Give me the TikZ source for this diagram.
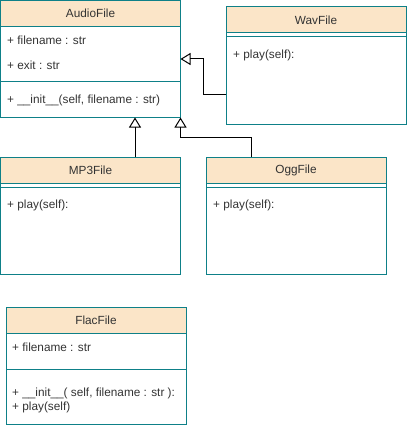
\documentclass[tikz,border=0pt]{standalone}
\usepackage{fontspec}
\setmainfont{Liberation Sans}
\usetikzlibrary{arrows.meta}
\definecolor{umlborder}{HTML}{0E8088}
\definecolor{umlhead}{HTML}{FBE5C8}
\definecolor{umltext}{HTML}{333333}
\begin{document}
\begin{tikzpicture}[x=1pt, y=-1pt,
    font=\fontsize{11.8pt}{13pt}\selectfont,
    classbox/.style={draw=umlborder, line width=1pt, anchor=north west,
        minimum width=180pt, minimum height=117pt, inner sep=0pt, outer sep=0pt},
    classhead/.style={draw=umlborder, fill=umlhead, line width=1pt, anchor=north,
        minimum width=180pt, minimum height=26pt, inner sep=0pt, outer sep=0pt, text=umltext},
    member/.style={anchor=west, inner sep=0pt, text=umltext},
    divider/.style={draw=umlborder, line width=1pt},
    inherit/.style={draw=black, line width=1pt, -{Triangle[open, width=12pt, length=10pt]}}]
    \useasboundingbox (0,0) rectangle (407,425);
    % class boxes
    \node[classbox] (audio) at (0.5,0.5) {};
    \node[classbox] (wav) at (226,7) {};
    \node[classbox] (mp3) at (0.5,157) {};
    \node[classbox] (ogg) at (206,157) {};
    \node[classbox] (flac) at (6,307) {};
    % headers
    \node[classhead] (audiohead) at (audio.north) {AudioFile};
    \node[classhead] (wavhead) at (wav.north) {WavFile};
    \node[classhead] (mp3head) at (mp3.north) {MP3File};
    \node[classhead] (ogghead) at (ogg.north) {OggFile};
    \node[classhead] (flachead) at (flac.north) {FlacFile};
    % dividers
    \draw[divider] (audio.west |- 0,82) -- (audio.east |- 0,82);
    \draw[divider] (wav.west |- 0,37) -- (wav.east |- 0,37);
    \draw[divider] (mp3.west |- 0,187) -- (mp3.east |- 0,187);
    \draw[divider] (ogg.west |- 0,187) -- (ogg.east |- 0,187);
    \draw[divider] (flac.west |- 0,369) -- (flac.east |- 0,369);
    % members
    \node[member] (audioname) at (7,40) {+ filename : str};
    \node[member] (audioexit) at (7,65) {+ exit : str};
    \node[member] (audioinit) at (7,100) {+ \_\_init\_\_(self, filename : str)};
    \node[member] (wavplay) at (233,55) {+ play(self):};
    \node[member] (mp3play) at (7,205) {+ play(self):};
    \node[member] (oggplay) at (213,205) {+ play(self):};
    \node[member] (flacname) at (12,347) {+ filename : str};
    \node[member] (flacinit) at (12,393) {+ \_\_init\_\_( self, filename : str ):};
    \node[member] (flacplay) at (12,407) {+ play(self)};
    % inheritance
    \draw[inherit] ([yshift=29pt]wav.south west) -- ++(-23,0) |- (audio.east |- 0,59);
    \draw[inherit] (mp3.north -| 135,0) -- (audio.south -| 135,0);
    \draw[inherit] (ogg.north -| 251,0) -- ++(0,-20) -| (audio.south east);
\end{tikzpicture}
\end{document}
